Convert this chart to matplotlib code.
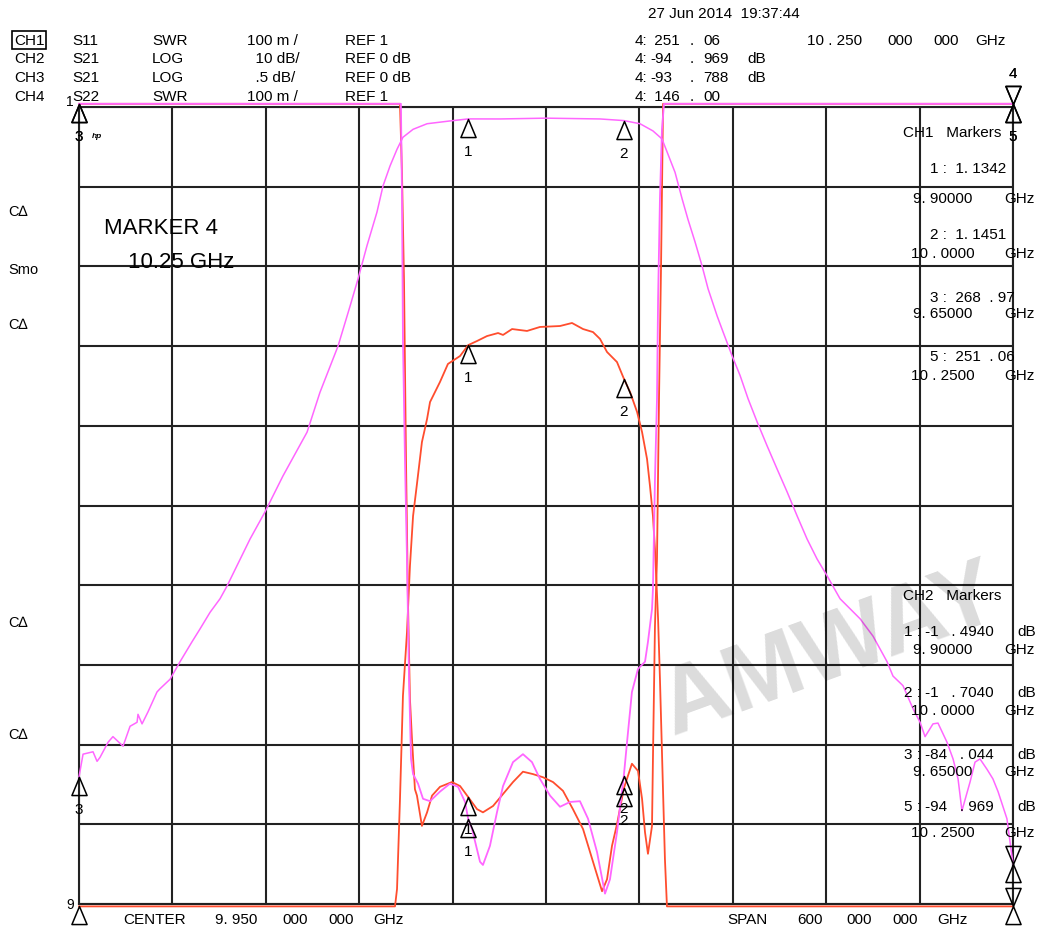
import numpy as np
import matplotlib
matplotlib.use('Agg')
import matplotlib.pyplot as plt
from matplotlib.path import Path

plt.rcParams['font.family'] = ['Liberation Sans', 'DejaVu Sans']

# sweep: center 9.95 GHz, span 600 MHz
f_start, f_stop = 9.65, 10.25

# CH1 S11 SWR (red, 100 m/div, ref 1 at bottom)
ch1_freq = [9.6500, 9.8562, 9.8575, 9.8588, 9.8601, 9.8613, 9.8626, 9.8639, 9.8658, 9.8671,
            9.8703, 9.8736, 9.8768, 9.8819, 9.8896, 9.8948, 9.9000, 9.9057, 9.9095, 9.9160,
            9.9224, 9.9288, 9.9352, 9.9416, 9.9481, 9.9545, 9.9609, 9.9673, 9.9738, 9.9802,
            9.9860, 9.9892, 9.9924, 9.9956, 10.0000, 10.0052, 10.0091, 10.0117, 10.0136, 10.0155,
            10.0181, 10.0187, 10.0200, 10.0213, 10.0226, 10.0239, 10.0252, 10.2500]
ch1_swr = [268.97, 3.0, 1.916, 1.780, 1.552, 1.383, 1.257, 1.207, 1.144, 1.136,
           1.098, 1.115, 1.136, 1.147, 1.153, 1.148, 1.1342, 1.119, 1.115, 1.123,
           1.138, 1.153, 1.166, 1.163, 1.159, 1.153, 1.142, 1.119, 1.094, 1.053,
           1.016, 1.031, 1.073, 1.100, 1.1451, 1.176, 1.167, 1.132, 1.090, 1.063,
           1.098, 1.182, 1.349, 1.433, 1.634, 1.800, 3.0, 251.06]

# CH2 S21 LOG (magenta, 10 dB/div, ref 0 dB at top)
ch2_freq = [9.6500, 9.6526, 9.6590, 9.6616, 9.6635, 9.6687, 9.6718, 9.6783, 9.6828, 9.6873,
            9.6879, 9.6905, 9.6943, 9.7001, 9.7020, 9.7085, 9.7149, 9.7226, 9.7277, 9.7342,
            9.7406, 9.7451, 9.7599, 9.7695, 9.7810, 9.7965, 9.8048, 9.8164, 9.8241, 9.8292,
            9.8350, 9.8414, 9.8453, 9.8498, 9.8543, 9.8581, 9.8646, 9.8736, 9.8883, 9.9000,
            9.9205, 9.9500, 9.9847, 10.0000, 10.0104, 10.0187, 10.0245, 10.0277, 10.0329, 10.0374,
            10.0412, 10.0457, 10.0502, 10.0541, 10.0599, 10.0637, 10.0695, 10.0747, 10.0798, 10.0856,
            10.0920, 10.0984, 10.1049, 10.1113, 10.1177, 10.1241, 10.1305, 10.1389, 10.1517, 10.1601,
            10.1691, 10.1729, 10.1793, 10.1858, 10.1903, 10.1935, 10.1986, 10.2018, 10.2076, 10.2115,
            10.2147, 10.2172, 10.2224, 10.2256, 10.2288, 10.2333, 10.2371, 10.2404, 10.2461, 10.2500]
ch2_db = [-84.04, -81.2, -80.9, -82.1, -81.6, -79.7, -79.0, -80.2, -77.7, -77.2,
          -76.2, -77.4, -75.9, -73.4, -73.0, -71.8, -69.6, -67.1, -65.5, -63.4,
          -61.7, -60.1, -54.2, -50.8, -46.3, -40.8, -35.8, -30.0, -25.0, -21.6,
          -17.4, -13.2, -9.9, -7.4, -5.3, -3.8, -2.8, -2.1, -1.75, -1.494,
          -1.5, -1.4, -1.5, -1.704, -2.1, -3.0, -4.0, -5.6, -8.2, -11.5,
          -14.1, -16.9, -19.9, -22.8, -26.2, -28.2, -31.2, -33.7, -36.6, -39.5,
          -42.5, -45.4, -48.3, -51.3, -54.2, -56.7, -58.8, -61.7, -64.2, -66.4,
          -69.6, -71.4, -72.6, -75.5, -77.2, -79.0, -77.4, -77.3, -79.7, -81.8,
          -84.3, -88.3, -84.7, -82.2, -81.8, -83.1, -84.3, -85.9, -89.3, -94.97]

# CH3 S21 LOG (red, .5 dB/div, ref 0 dB at top)
ch3_freq = [9.6500, 9.8530, 9.8543, 9.8562, 9.8575, 9.8581, 9.8607, 9.8626, 9.8646, 9.8671,
            9.8703, 9.8736, 9.8755, 9.8787, 9.8819, 9.8870, 9.8948, 9.9000, 9.9057, 9.9121,
            9.9192, 9.9224, 9.9282, 9.9378, 9.9461, 9.9590, 9.9667, 9.9738, 9.9802, 9.9847,
            9.9892, 9.9956, 10.0000, 10.0040, 10.0085, 10.0117, 10.0149, 10.0168, 10.0187, 10.0200,
            10.0220, 10.0232, 10.0252, 10.0264, 10.0277, 10.2500]
ch3_db = [-6.0, -6.0, -4.906, -4.341, -3.902, -3.695, -3.294, -2.880, -2.566, -2.365,
          -2.102, -1.957, -1.851, -1.788, -1.725, -1.612, -1.562, -1.494, -1.468, -1.437,
          -1.418, -1.430, -1.393, -1.405, -1.380, -1.374, -1.355, -1.393, -1.412, -1.455,
          -1.537, -1.600, -1.704, -1.788, -1.913, -2.039, -2.208, -2.378, -2.566, -2.773,
          -3.212, -3.588, -4.297, -4.718, -6.0, -6.0]

# CH4 S22 SWR (magenta, 100 m/div, ref 1 at bottom)
ch4_freq = [9.6500, 9.8568, 9.8575, 9.8581, 9.8594, 9.8607, 9.8620, 9.8633, 9.8646, 9.8678,
            9.8710, 9.8755, 9.8819, 9.8883, 9.8935, 9.8980, 9.9000, 9.9025, 9.9076, 9.9095,
            9.9140, 9.9185, 9.9224, 9.9288, 9.9352, 9.9410, 9.9461, 9.9526, 9.9590, 9.9654,
            9.9718, 9.9770, 9.9828, 9.9879, 9.9911, 9.9956, 10.0000, 10.0027, 10.0052, 10.0091,
            10.0136, 10.0155, 10.0181, 10.0187, 10.0200, 10.0213, 10.0220, 10.0232, 10.0245, 10.0258,
            10.2500]
ch4_swr = [146.0, 3.0, 1.885, 1.709, 1.558, 1.433, 1.282, 1.182, 1.163, 1.151,
           1.132, 1.129, 1.141, 1.151, 1.147, 1.128, 1.107, 1.094, 1.053, 1.049,
           1.073, 1.115, 1.148, 1.178, 1.188, 1.178, 1.157, 1.136, 1.122, 1.128,
           1.129, 1.107, 1.065, 1.013, 1.031, 1.090, 1.161, 1.216, 1.266, 1.295,
           1.304, 1.329, 1.370, 1.395, 1.533, 1.634, 1.759, 1.885, 1.972, 3.0,
           146.0]

marker_freqs = {'1': 9.90, '2': 10.00, '3': 9.65, '4': 10.25, '5': 10.25}

RED = '#ff4d2e'
MAG = '#ff66ff'
W, H = 1041, 928


def swr_div(s):
    return np.clip((np.asarray(s) - 1.0) / 0.1, -0.03, 10.04)


def db_div(d, per_div):
    return np.clip(10 + np.asarray(d) / per_div, -0.03, 10.04)


fig = plt.figure(figsize=(W / 100, H / 100), dpi=100)
ax = fig.add_axes([79 / W, (H - 905) / H, 934 / W, 797 / H])
ax.set_xlim(f_start, f_stop)
ax.set_ylim(0, 10)
ax.set_xticks(np.linspace(f_start, f_stop, 11))
ax.set_yticks(np.arange(11))
ax.grid(True, color='#222222', lw=1.5)
ax.tick_params(length=0, labelbottom=False, labelleft=False)
for sp in ax.spines.values():
    sp.set_color('#222222')
    sp.set_linewidth(1.5)

traces = [
    (ch1_freq, swr_div(ch1_swr), RED, 1.3),
    (ch3_freq, db_div(ch3_db, 0.5), RED, 1.3),
    (ch2_freq, db_div(ch2_db, 10), MAG, 1.1),
    (ch4_freq, swr_div(ch4_swr), MAG, 1.3),
]
for fr, yv, col, lw in traces:
    ax.plot(fr, yv, color=col, lw=lw, clip_on=False, zorder=3)

# marker triangles, tip at the trace point
up_tri = Path([(0, 0), (-0.42, -1), (0.42, -1), (0, 0)],
              [Path.MOVETO, Path.LINETO, Path.LINETO, Path.CLOSEPOLY])
dn_tri = Path([(0, 0), (-0.42, 1), (0.42, 1), (0, 0)],
              [Path.MOVETO, Path.LINETO, Path.LINETO, Path.CLOSEPOLY])

for fr, yv, col, lw in traces:
    for name, mf in marker_freqs.items():
        yy = np.interp(mf, fr, yv)
        at_bottom = yy < 0.5
        at_top = yy > 9.9
        if name == '4':
            ax.plot([mf], [yy], marker=dn_tri, ms=26, mfc='none', mec='black',
                    mew=1.1, clip_on=False, zorder=5)
            if at_top:
                ax.annotate(name, (mf, yy), xytext=(0, 22), textcoords='offset points',
                            ha='center', va='center', fontsize=11, annotation_clip=False)
        else:
            ax.plot([mf], [yy], marker=up_tri, ms=26, mfc='none', mec='black',
                    mew=1.1, clip_on=False, zorder=5)
            if at_bottom or (name == '5' and not at_top):
                continue
            ax.annotate(name, (mf, yy), xytext=(0, -23), textcoords='offset points',
                        ha='center', va='center', fontsize=11, annotation_clip=False)


def put(x, y, s, size=11, **kw):
    fig.text(x / W, 1 - y / H, s, fontsize=size, ha=kw.pop('ha', 'left'),
             va=kw.pop('va', 'center'), **kw)


# header
put(648, 14, '27 Jun 2014  19:37:44')
put(14, 41, 'CH1', bbox=dict(boxstyle='square,pad=0.12', fc='white', ec='black', lw=1.2))
rows = [('CH2', 59), ('CH3', 78), ('CH4', 97)]
for name, yy in rows:
    put(14, yy, name)
params = [('S11', 'SWR', '100 m /', 'REF 1'),
          ('S21', 'LOG', '  10 dB/', 'REF 0 dB'),
          ('S21', 'LOG', '  .5 dB/', 'REF 0 dB'),
          ('S22', 'SWR', '100 m /', 'REF 1')]
for (sp, fmt, scale, ref), yy in zip(params, [41, 59, 78, 97]):
    put(72, yy, sp)
    put(152, yy, fmt)
    put(247, yy, scale)
    put(345, yy, ref)

readout = [('4:', ' 251', '06', ''), ('4:', '-94', '969', 'dB'),
           ('4:', '-93', '788', 'dB'), ('4:', ' 146', '00', '')]
for (a, b, c, d), yy in zip(readout, [41, 59, 78, 97]):
    put(635, yy, a)
    put(650, yy, b)
    put(690, yy, '.')
    put(703, yy, c)
    put(747, yy, d)
put(807, 41, '10 . 250')
put(887, 41, '000')
put(933, 41, '000')
put(975, 41, 'GHz')

# left annotations
for lbl, yy in [('C\u2206', 212), ('Smo', 270), ('C\u2206', 325), ('C\u2206', 623), ('C\u2206', 735)]:
    put(8, yy, lbl, size=10.5)
put(104, 228, 'MARKER 4', size=16)
put(128, 262, '10.25 GHz', size=16)
put(92, 137, 'hp', size=6, style='italic', weight='bold')
put(66, 102, '1', size=10)
put(66, 905, '9', size=10)

# marker tables
ch1_tab = [('1 :  1. 1342', '', 169), ('9. 90000', 'GHz', 199), ('2 :  1. 1451', '', 235),
           ('10 . 0000', 'GHz', 254), ('3 :  268  . 97', '', 298), ('9. 65000', 'GHz', 314),
           ('5 :  251  . 06', '', 357), ('10 . 2500', 'GHz', 376)]
put(903, 133, 'CH1   Markers')
for txt, unit, yy in ch1_tab:
    if txt[1] == ' ':
        put(930, yy, txt)
    else:
        put(911 if txt.startswith('10') else 913, yy, txt)
    if unit:
        put(1004, yy, unit)

ch2_tab = [('1 : -1   . 4940', 'dB', 632), ('9. 90000', 'GHz', 650), ('2 : -1   . 7040', 'dB', 693),
           ('10 . 0000', 'GHz', 711), ('3 : -84   . 044', 'dB', 755), ('9. 65000', 'GHz', 772),
           ('5 : -94   . 969', 'dB', 807), ('10 . 2500', 'GHz', 833)]
put(903, 596, 'CH2   Markers')
for txt, unit, yy in ch2_tab:
    if unit == 'dB':
        put(904, yy, txt)
        put(1017, yy, unit)
    else:
        put(911 if txt.startswith('10') else 913, yy, txt)
        put(1004, yy, unit)

# bottom
put(123, 920, 'CENTER')
put(215, 920, '9. 950')
put(282, 920, '000')
put(328, 920, '000')
put(373, 920, 'GHz')
put(727, 920, 'SPAN')
put(797, 920, '600')
put(846, 920, '000')
put(892, 920, '000')
put(937, 920, 'GHz')

# watermark
put(830, 652, 'AMWAY', size=68, weight='bold', color='black', alpha=0.14,
    rotation=20, ha='center', va='center', zorder=1)

fig.savefig('out.png', dpi=100, facecolor='white')
